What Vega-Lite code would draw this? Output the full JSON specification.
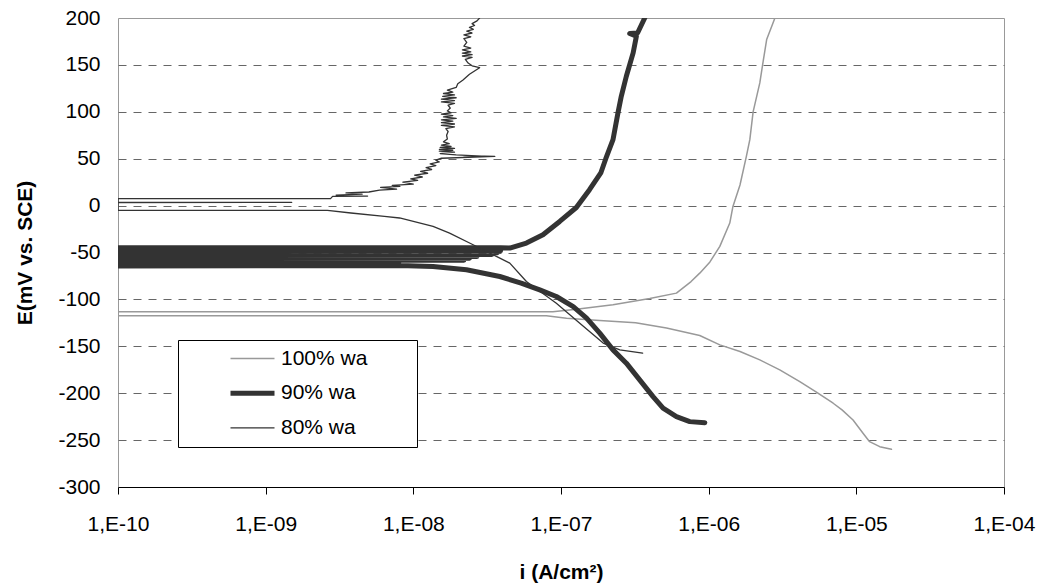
{
  "$schema": "https://vega.github.io/schema/vega-lite/v6.json",
  "width": 886,
  "height": 469,
  "autosize": {"type": "none"},
  "padding": {"left": 118, "top": 18, "right": 39, "bottom": 99},
  "background": "white",
  "data": {"values": [
    {"s":"100% wa","k":1,"i":1.73e-5,"e":-259.8},
    {"s":"100% wa","k":2,"i":1.44e-5,"e":-257},
    {"s":"100% wa","k":3,"i":1.23e-5,"e":-251.7},
    {"s":"100% wa","k":4,"i":1.11e-5,"e":-242.7},
    {"s":"100% wa","k":5,"i":9.5e-6,"e":-228.5},
    {"s":"100% wa","k":6,"i":8.0e-6,"e":-217.8},
    {"s":"100% wa","k":7,"i":6.97e-6,"e":-210.7},
    {"s":"100% wa","k":8,"i":5.3e-6,"e":-198.3},
    {"s":"100% wa","k":9,"i":4.14e-6,"e":-187.6},
    {"s":"100% wa","k":10,"i":3.03e-6,"e":-175.1},
    {"s":"100% wa","k":11,"i":2.22e-6,"e":-164.5},
    {"s":"100% wa","k":12,"i":1.63e-6,"e":-155.6},
    {"s":"100% wa","k":13,"i":1.19e-6,"e":-148.5},
    {"s":"100% wa","k":14,"i":8.7e-7,"e":-138.5},
    {"s":"100% wa","k":15,"i":5.18e-7,"e":-130.6},
    {"s":"100% wa","k":16,"i":3.2e-7,"e":-125},
    {"s":"100% wa","k":17,"i":1.83e-7,"e":-122.5},
    {"s":"100% wa","k":18,"i":1.09e-7,"e":-120},
    {"s":"100% wa","k":19,"i":7.96e-8,"e":-117.5},
    {"s":"100% wa","k":20,"i":1e-10,"e":-117.5},
    {"s":"100% wa","k":21,"i":1e-10,"e":-113.2},
    {"s":"100% wa","k":22,"i":8.8e-8,"e":-113.2},
    {"s":"100% wa","k":23,"i":1.27e-7,"e":-110.5},
    {"s":"100% wa","k":24,"i":2.25e-7,"e":-105.8},
    {"s":"100% wa","k":25,"i":3.99e-7,"e":-99},
    {"s":"100% wa","k":26,"i":6.05e-7,"e":-93.3},
    {"s":"100% wa","k":27,"i":7.6e-7,"e":-81},
    {"s":"100% wa","k":28,"i":8.7e-7,"e":-72},
    {"s":"100% wa","k":29,"i":1.02e-6,"e":-60},
    {"s":"100% wa","k":30,"i":1.19e-6,"e":-43.5},
    {"s":"100% wa","k":31,"i":1.39e-6,"e":-18.6},
    {"s":"100% wa","k":32,"i":1.46e-6,"e":-0.9},
    {"s":"100% wa","k":33,"i":1.63e-6,"e":22},
    {"s":"100% wa","k":34,"i":1.8e-6,"e":52.5},
    {"s":"100% wa","k":35,"i":1.9e-6,"e":70.3},
    {"s":"100% wa","k":36,"i":2.0e-6,"e":100},
    {"s":"100% wa","k":37,"i":2.22e-6,"e":130.8},
    {"s":"100% wa","k":38,"i":2.34e-6,"e":154},
    {"s":"100% wa","k":39,"i":2.47e-6,"e":177},
    {"s":"100% wa","k":40,"i":2.81e-6,"e":200},

    {"s":"90% wa","k":1,"i":9.42e-7,"e":-231.4},
    {"s":"90% wa","k":2,"i":7.45e-7,"e":-230.3},
    {"s":"90% wa","k":3,"i":6.05e-7,"e":-225},
    {"s":"90% wa","k":4,"i":4.91e-7,"e":-216},
    {"s":"90% wa","k":5,"i":4.2e-7,"e":-203.6},
    {"s":"90% wa","k":6,"i":3.41e-7,"e":-185.8},
    {"s":"90% wa","k":7,"i":2.77e-7,"e":-168},
    {"s":"90% wa","k":8,"i":2.25e-7,"e":-153.8},
    {"s":"90% wa","k":9,"i":1.83e-7,"e":-136},
    {"s":"90% wa","k":10,"i":1.49e-7,"e":-120},
    {"s":"90% wa","k":11,"i":1.21e-7,"e":-107.6},
    {"s":"90% wa","k":12,"i":9.3e-8,"e":-96.9},
    {"s":"90% wa","k":13,"i":7.18e-8,"e":-89.8},
    {"s":"90% wa","k":14,"i":5.37e-8,"e":-82.6},
    {"s":"90% wa","k":15,"i":3.85e-8,"e":-75.6},
    {"s":"90% wa","k":16,"i":2.29e-8,"e":-68.4},
    {"s":"90% wa","k":17,"i":1.36e-8,"e":-64.9},
    {"s":"90% wa","k":18,"i":8.07e-9,"e":-63.8},
    {"s":"90% wa","k":19,"i":1e-10,"e":-64.5},
    {"s":"90% wa","k":20,"i":1e-10,"e":-62.5},
    {"s":"90% wa","k":21,"i":4e-9,"e":-62.3},
    {"s":"90% wa","k":22,"i":1e-10,"e":-60.5},
    {"s":"90% wa","k":23,"i":8e-9,"e":-60.2},
    {"s":"90% wa","k":24,"i":1e-10,"e":-58.5},
    {"s":"90% wa","k":25,"i":2.2e-8,"e":-58.2},
    {"s":"90% wa","k":26,"i":1e-10,"e":-56.5},
    {"s":"90% wa","k":27,"i":2.4e-8,"e":-56.2},
    {"s":"90% wa","k":28,"i":1e-10,"e":-54.5},
    {"s":"90% wa","k":29,"i":2.7e-8,"e":-54.2},
    {"s":"90% wa","k":30,"i":1e-10,"e":-52.5},
    {"s":"90% wa","k":31,"i":3.4e-8,"e":-52.2},
    {"s":"90% wa","k":32,"i":1e-10,"e":-50.5},
    {"s":"90% wa","k":33,"i":3.7e-8,"e":-50.2},
    {"s":"90% wa","k":34,"i":1e-10,"e":-48.5},
    {"s":"90% wa","k":35,"i":3.9e-8,"e":-48.2},
    {"s":"90% wa","k":36,"i":1e-10,"e":-46.5},
    {"s":"90% wa","k":37,"i":3.9e-8,"e":-46.2},
    {"s":"90% wa","k":38,"i":1e-10,"e":-45},
    {"s":"90% wa","k":39,"i":3.9e-8,"e":-45},
    {"s":"90% wa","k":40,"i":4.5e-8,"e":-45.3},
    {"s":"90% wa","k":41,"i":5.83e-8,"e":-39.9},
    {"s":"90% wa","k":42,"i":7.55e-8,"e":-31.1},
    {"s":"90% wa","k":43,"i":9.8e-8,"e":-16.9},
    {"s":"90% wa","k":44,"i":1.27e-7,"e":-2},
    {"s":"90% wa","k":45,"i":1.56e-7,"e":17},
    {"s":"90% wa","k":46,"i":1.86e-7,"e":34.8},
    {"s":"90% wa","k":47,"i":2.01e-7,"e":50},
    {"s":"90% wa","k":48,"i":2.25e-7,"e":70.3},
    {"s":"90% wa","k":49,"i":2.43e-7,"e":98.8},
    {"s":"90% wa","k":50,"i":2.56e-7,"e":116.5},
    {"s":"90% wa","k":51,"i":2.77e-7,"e":137.9},
    {"s":"90% wa","k":52,"i":3.08e-7,"e":162.8},
    {"s":"90% wa","k":53,"i":3.24e-7,"e":180.6},
    {"s":"90% wa","k":54,"i":2.92e-7,"e":183.5},
    {"s":"90% wa","k":55,"i":3.3e-7,"e":184},
    {"s":"90% wa","k":56,"i":3.69e-7,"e":200},

    {"s":"80% wa","k":1,"i":3.57e-7,"e":-157.3},
    {"s":"80% wa","k":2,"i":2.5e-7,"e":-153.8},
    {"s":"80% wa","k":3,"i":1.93e-7,"e":-146.6},
    {"s":"80% wa","k":4,"i":1.34e-7,"e":-125.3},
    {"s":"80% wa","k":5,"i":9.3e-8,"e":-104},
    {"s":"80% wa","k":6,"i":5.83e-8,"e":-80.9},
    {"s":"80% wa","k":7,"i":4.5e-8,"e":-61.3},
    {"s":"80% wa","k":8,"i":3.65e-8,"e":-54.2},
    {"s":"80% wa","k":9,"i":2.54e-8,"e":-41.7},
    {"s":"80% wa","k":10,"i":1.76e-8,"e":-29.3},
    {"s":"80% wa","k":11,"i":1.36e-8,"e":-22.2},
    {"s":"80% wa","k":12,"i":8.07e-9,"e":-13.2},
    {"s":"80% wa","k":13,"i":6.37e-9,"e":-11.5},
    {"s":"80% wa","k":14,"i":3.78e-9,"e":-7.9},
    {"s":"80% wa","k":15,"i":2.62e-9,"e":-5.1},
    {"s":"80% wa","k":16,"i":1e-10,"e":-5.1},
    {"s":"80% wa","k":17,"i":1e-10,"e":3.2},
    {"s":"80% wa","k":18,"i":1.5e-9,"e":3.4},
    {"s":"80% wa","k":19,"i":1e-10,"e":3.6},
    {"s":"80% wa","k":20,"i":1e-10,"e":7.4},
    {"s":"80% wa","k":21,"i":2.75e-9,"e":7.4},
    {"s":"80% wa","k":22,"i":2.84e-9,"e":9.8},
    {"s":"80% wa","k":23,"i":4.9e-9,"e":10.2},
    {"s":"80% wa","k":24,"i":3.0e-9,"e":11.2},
    {"s":"80% wa","k":25,"i":4.5e-9,"e":12.2},
    {"s":"80% wa","k":26,"i":3.5e-9,"e":13.5},
    {"s":"80% wa","k":27,"i":5.0e-9,"e":14.5},
    {"s":"80% wa","k":28,"i":5.9e-9,"e":16.5},
    {"s":"80% wa","k":29,"i":7.7e-9,"e":17.5},
    {"s":"80% wa","k":30,"i":6.0e-9,"e":19.5},
    {"s":"80% wa","k":31,"i":8.1e-9,"e":20.5},
    {"s":"80% wa","k":32,"i":7.2e-9,"e":21.5},
    {"s":"80% wa","k":33,"i":1.0e-8,"e":23},
    {"s":"80% wa","k":34,"i":8.5e-9,"e":25},
    {"s":"80% wa","k":35,"i":1.07e-8,"e":27},
    {"s":"80% wa","k":36,"i":9.6e-9,"e":28.5},
    {"s":"80% wa","k":37,"i":1.15e-8,"e":30.5},
    {"s":"80% wa","k":38,"i":1.02e-8,"e":32.5},
    {"s":"80% wa","k":39,"i":1.25e-8,"e":34.5},
    {"s":"80% wa","k":40,"i":1.12e-8,"e":36.5},
    {"s":"80% wa","k":41,"i":1.33e-8,"e":38.5},
    {"s":"80% wa","k":42,"i":1.22e-8,"e":40.5},
    {"s":"80% wa","k":43,"i":1.42e-8,"e":42.5},
    {"s":"80% wa","k":44,"i":1.3e-8,"e":44.5},
    {"s":"80% wa","k":45,"i":1.5e-8,"e":46.5},
    {"s":"80% wa","k":46,"i":1.42e-8,"e":48.5},
    {"s":"80% wa","k":47,"i":1.55e-8,"e":50.5},
    {"s":"80% wa","k":48,"i":3.56e-8,"e":52.5},
    {"s":"80% wa","k":49,"i":2.2e-8,"e":53.2},
    {"s":"80% wa","k":50,"i":2.9e-8,"e":52.8},
    {"s":"80% wa","k":51,"i":1.95e-8,"e":54},
    {"s":"80% wa","k":52,"i":1.52e-8,"e":55.5},
    {"s":"80% wa","k":53,"i":1.9e-8,"e":57},
    {"s":"80% wa","k":54,"i":1.5e-8,"e":58},
    {"s":"80% wa","k":55,"i":1.85e-8,"e":59},
    {"s":"80% wa","k":56,"i":1.5e-8,"e":60},
    {"s":"80% wa","k":57,"i":1.9e-8,"e":61},
    {"s":"80% wa","k":58,"i":1.52e-8,"e":62},
    {"s":"80% wa","k":59,"i":1.8e-8,"e":63},
    {"s":"80% wa","k":60,"i":1.55e-8,"e":64.5},
    {"s":"80% wa","k":61,"i":1.75e-8,"e":66},
    {"s":"80% wa","k":62,"i":1.6e-8,"e":68},
    {"s":"80% wa","k":63,"i":1.7e-8,"e":71},
    {"s":"80% wa","k":64,"i":1.68e-8,"e":75},
    {"s":"80% wa","k":65,"i":1.72e-8,"e":79},
    {"s":"80% wa","k":66,"i":1.66e-8,"e":82},
    {"s":"80% wa","k":67,"i":1.9e-8,"e":84},
    {"s":"80% wa","k":68,"i":1.55e-8,"e":85.5},
    {"s":"80% wa","k":69,"i":1.9e-8,"e":87},
    {"s":"80% wa","k":70,"i":1.55e-8,"e":88.5},
    {"s":"80% wa","k":71,"i":1.85e-8,"e":90},
    {"s":"80% wa","k":72,"i":1.55e-8,"e":91.5},
    {"s":"80% wa","k":73,"i":1.95e-8,"e":93},
    {"s":"80% wa","k":74,"i":1.6e-8,"e":94.5},
    {"s":"80% wa","k":75,"i":1.85e-8,"e":96},
    {"s":"80% wa","k":76,"i":1.55e-8,"e":97.5},
    {"s":"80% wa","k":77,"i":1.8e-8,"e":99},
    {"s":"80% wa","k":78,"i":1.7e-8,"e":101},
    {"s":"80% wa","k":79,"i":1.78e-8,"e":104},
    {"s":"80% wa","k":80,"i":1.72e-8,"e":107},
    {"s":"80% wa","k":81,"i":1.9e-8,"e":109},
    {"s":"80% wa","k":82,"i":1.55e-8,"e":110.5},
    {"s":"80% wa","k":83,"i":1.9e-8,"e":112},
    {"s":"80% wa","k":84,"i":1.55e-8,"e":113.5},
    {"s":"80% wa","k":85,"i":1.95e-8,"e":115},
    {"s":"80% wa","k":86,"i":1.58e-8,"e":116.5},
    {"s":"80% wa","k":87,"i":1.9e-8,"e":118},
    {"s":"80% wa","k":88,"i":1.6e-8,"e":119.5},
    {"s":"80% wa","k":89,"i":1.85e-8,"e":121},
    {"s":"80% wa","k":90,"i":1.7e-8,"e":123},
    {"s":"80% wa","k":91,"i":1.95e-8,"e":126},
    {"s":"80% wa","k":92,"i":2.0e-8,"e":130},
    {"s":"80% wa","k":93,"i":2.17e-8,"e":134},
    {"s":"80% wa","k":94,"i":2.4e-8,"e":140},
    {"s":"80% wa","k":95,"i":2.81e-8,"e":147},
    {"s":"80% wa","k":96,"i":2.5e-8,"e":149},
    {"s":"80% wa","k":97,"i":2.35e-8,"e":152},
    {"s":"80% wa","k":98,"i":2.25e-8,"e":156},
    {"s":"80% wa","k":99,"i":2.5e-8,"e":158},
    {"s":"80% wa","k":100,"i":2.15e-8,"e":159.5},
    {"s":"80% wa","k":101,"i":2.5e-8,"e":161},
    {"s":"80% wa","k":102,"i":2.15e-8,"e":162.5},
    {"s":"80% wa","k":103,"i":2.45e-8,"e":164},
    {"s":"80% wa","k":104,"i":2.15e-8,"e":166},
    {"s":"80% wa","k":105,"i":2.45e-8,"e":168},
    {"s":"80% wa","k":106,"i":2.2e-8,"e":170},
    {"s":"80% wa","k":107,"i":2.3e-8,"e":174},
    {"s":"80% wa","k":108,"i":2.2e-8,"e":178},
    {"s":"80% wa","k":109,"i":2.45e-8,"e":180},
    {"s":"80% wa","k":110,"i":2.2e-8,"e":182},
    {"s":"80% wa","k":111,"i":2.5e-8,"e":184},
    {"s":"80% wa","k":112,"i":2.3e-8,"e":186},
    {"s":"80% wa","k":113,"i":2.55e-8,"e":188},
    {"s":"80% wa","k":114,"i":2.4e-8,"e":190},
    {"s":"80% wa","k":115,"i":2.6e-8,"e":192},
    {"s":"80% wa","k":116,"i":2.5e-8,"e":194},
    {"s":"80% wa","k":117,"i":2.7e-8,"e":197},
    {"s":"80% wa","k":118,"i":2.81e-8,"e":200}
  ]},
  "mark": {"type": "line", "strokeCap": "round", "strokeJoin": "round", "clip": true},
  "encoding": {
    "x": {
      "field": "i", "type": "quantitative",
      "scale": {"type": "log", "domain": [1e-10, 1e-4], "nice": false},
      "axis": {
        "title": "i (A/cm²)",
        "values": [1e-10, 1e-9, 1e-8, 1e-7, 1e-6, 1e-5, 1e-4],
        "labelExpr": "'1,E-' + (round(-log(datum.value)/LN10) < 10 ? '0' : '') + round(-log(datum.value)/LN10)",
        "grid": false,
        "domainColor": "#000000", "domainWidth": 1,
        "tickColor": "#000000", "tickSize": 7, "tickWidth": 1,
        "labelFont": "Liberation Sans", "labelFontSize": 21, "labelColor": "#000000",
        "labelPadding": 19, "labelFlush": false, "labelOverlap": false,
        "titleFont": "Liberation Sans", "titleFontSize": 21, "titleFontWeight": "bold", "titleColor": "#000000",
        "titleBaseline": "alphabetic", "titleY": 91.5
      }
    },
    "y": {
      "field": "e", "type": "quantitative",
      "scale": {"domain": [-300, 200], "nice": false, "zero": false},
      "axis": {
        "title": "E(mV vs. SCE)",
        "values": [-300, -250, -200, -150, -100, -50, 0, 50, 100, 150, 200],
        "labelExpr": "'' + datum.value",
        "domain": false,
        "ticks": false,
        "grid": true,
        "gridColor": "#666666",
        "gridDash": [8, 7],
        "gridWidth": 1,
        "gridOpacity": {"condition": {"test": "datum.value == 200 || datum.value == -300", "value": 0}, "value": 1},
        "labelFont": "Liberation Sans", "labelFontSize": 21, "labelColor": "#000000",
        "labelPadding": 18, "labelFlush": false, "labelOverlap": false,
        "titleFont": "Liberation Sans", "titleFontSize": 21, "titleFontWeight": "bold", "titleColor": "#000000",
        "titleBaseline": "bottom", "titleX": -83
      }
    },
    "color": {
      "field": "s", "type": "ordinal",
      "scale": {"type": "ordinal", "domain": ["100% wa", "90% wa", "80% wa"], "range": ["#999999", "#333333", "#333333"]},
      "legend": {
        "title": null, "orient": "none", "legendX": 60, "legendY": 322, "direction": "vertical",
        "fillColor": "#ffffff", "strokeColor": "#000000", "padding": 8, "cornerRadius": 0,
        "symbolType": "stroke", "symbolSize": 1936, "symbolOffset": 42, "labelOffset": 4,
        "clipHeight": 21, "rowPadding": 12.7,
        "labelFont": "Liberation Sans", "labelFontSize": 21, "labelColor": "#000000", "labelBaseline": "middle",
        "labelExpr": "datum.label + '\u00a0\u00a0\u00a0\u00a0\u00a0\u00a0\u00a0\u200b'"
      }
    },
    "strokeWidth": {
      "field": "s", "type": "ordinal",
      "scale": {"type": "ordinal", "domain": ["100% wa", "90% wa", "80% wa"], "range": [1.5, 5, 1.3]},
      "legend": {
        "title": null, "orient": "none", "legendX": 60, "legendY": 322, "direction": "vertical",
        "fillColor": "#ffffff", "strokeColor": "#000000", "padding": 8, "cornerRadius": 0,
        "symbolType": "stroke", "symbolSize": 1936, "symbolOffset": 42, "labelOffset": 4,
        "clipHeight": 21, "rowPadding": 12.7,
        "labelFont": "Liberation Sans", "labelFontSize": 21, "labelColor": "#000000", "labelBaseline": "middle",
        "labelExpr": "datum.label + '\u00a0\u00a0\u00a0\u00a0\u00a0\u00a0\u00a0\u200b'"
      }
    },
    "order": {"field": "k", "type": "quantitative"}
  },
  "config": {
    "font": "Liberation Sans",
    "view": {"stroke": "#999999", "strokeWidth": 1}
  }
}
